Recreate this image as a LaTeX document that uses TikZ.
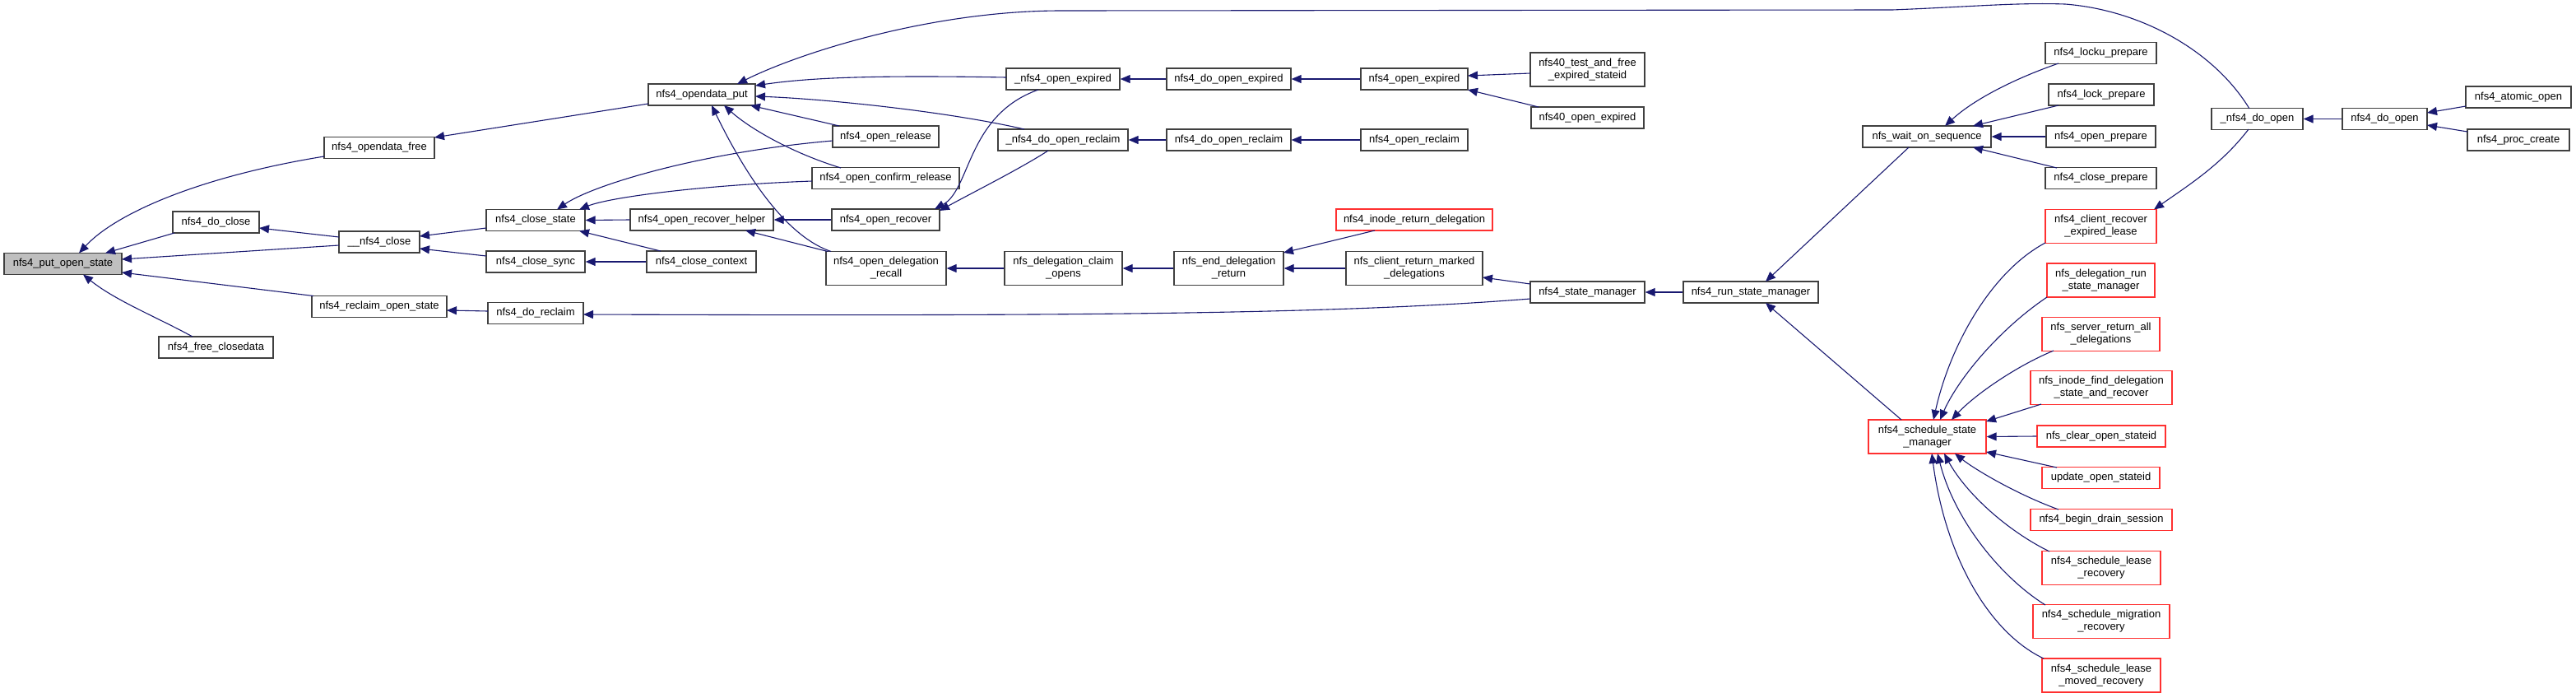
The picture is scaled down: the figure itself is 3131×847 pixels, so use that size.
\documentclass[tikz,border=0pt]{standalone}
\usepackage{fontspec}
\setmainfont{Liberation Sans}
\usetikzlibrary{arrows.meta,calc}
\definecolor{edgecol}{HTML}{191970}
\definecolor{boxline}{HTML}{404040}
\definecolor{nred}{HTML}{FF3030}
\definecolor{hl}{HTML}{BFBFBF}
\begin{document}
\begin{tikzpicture}[x=1pt,y=-1pt,
  bx/.style={draw=boxline, line width=1.3pt, fill=white, inner xsep=1pt, inner ysep=1pt,
    minimum height=26pt, align=center, font=\fontsize{13}{15}\selectfont},
  two/.style={minimum height=41pt},
  rd/.style={draw=nred},
  e/.style={draw=edgecol, line width=1.1pt, {Triangle[length=12pt,width=10pt]}-}]
\useasboundingbox (0,0) rectangle (3131,847);
% column 1
\node[bx, fill=hl, minimum width=143pt] (put) at (76.5,320.5) {nfs4\_put\_open\_state};
% column 2
\node[bx, minimum width=105pt] (dcl) at (262.5,270) {nfs4\_do\_close};
\node[bx, minimum width=139pt] (fcd) at (262.5,422) {nfs4\_free\_closedata};
% column 3
\node[bx, minimum width=134pt] (odf) at (461,179.5) {nfs4\_opendata\_free};
\node[bx, minimum width=98pt] (ncl) at (461,294) {\_\_nfs4\_close};
\node[bx, minimum width=164pt] (ros) at (461,372.5) {nfs4\_reclaim\_open\_state};
% column 4
\node[bx, minimum width=120pt] (cst) at (651,267.5) {nfs4\_close\_state};
\node[bx, minimum width=120pt] (csy) at (651,318) {nfs4\_close\_sync};
\node[bx, minimum width=116pt] (drc) at (651,380.5) {nfs4\_do\_reclaim};
% column 5
\node[bx, minimum width=130pt] (odp) at (853,115) {nfs4\_opendata\_put};
\node[bx, minimum width=174pt] (orh) at (853,267) {nfs4\_open\_recover\_helper};
\node[bx, minimum width=133pt] (cct) at (852.5,318) {nfs4\_close\_context};
% column 6
\node[bx, minimum width=129pt] (orl) at (1076.5,166) {nfs4\_open\_release};
\node[bx, minimum width=179pt] (ocr) at (1076.5,216.5) {nfs4\_open\_confirm\_release};
\node[bx, minimum width=131pt] (orc) at (1076.5,267) {nfs4\_open\_recover};
\node[bx, two, minimum width=146pt] (odr) at (1077,326) {nfs4\_open\_delegation\\\_recall};
% column 7
\node[bx, minimum width=138pt] (uoe) at (1292,96) {\_nfs4\_open\_expired};
\node[bx, minimum width=158pt] (udr) at (1292,170) {\_nfs4\_do\_open\_reclaim};
\node[bx, two, minimum width=143pt] (dco) at (1292.5,326) {nfs\_delegation\_claim\\\_opens};
% column 8
\node[bx, minimum width=151pt] (doe) at (1493.5,96) {nfs4\_do\_open\_expired};
\node[bx, minimum width=151pt] (dor) at (1493.5,170) {nfs4\_do\_open\_reclaim};
\node[bx, two, minimum width=133pt] (edr) at (1493.5,326) {nfs\_end\_delegation\\\_return};
% column 9
\node[bx, minimum width=130pt] (oex) at (1719,96) {nfs4\_open\_expired};
\node[bx, minimum width=130pt] (orm) at (1719,170) {nfs4\_open\_reclaim};
\node[bx, rd, minimum width=190pt] (ird) at (1719,267) {nfs4\_inode\_return\_delegation};
\node[bx, two, minimum width=166pt] (crm) at (1719,326) {nfs\_client\_return\_marked\\\_delegations};
% column 10
\node[bx, two, minimum width=139pt] (tfs) at (1929.5,84.5) {nfs40\_test\_and\_free\\\_expired\_stateid};
\node[bx, minimum width=137pt] (n4e) at (1929.5,143) {nfs40\_open\_expired};
\node[bx, minimum width=139pt] (stm) at (1929.5,355) {nfs4\_state\_manager};
% column 11
\node[bx, minimum width=164pt] (rsm) at (2128,355) {nfs4\_run\_state\_manager};
% column 12
\node[bx, minimum width=156pt] (wos) at (2342,166) {nfs\_wait\_on\_sequence};
\node[bx, rd, two, minimum width=143pt] (ssm) at (2342.5,530.5) {nfs4\_schedule\_state\\\_manager};
% column 13
\node[bx, minimum width=135pt] (lkp) at (2553.5,64.5) {nfs4\_locku\_prepare};
\node[bx, minimum width=128pt] (lcp) at (2554,115) {nfs4\_lock\_prepare};
\node[bx, minimum width=133pt] (opp) at (2553.5,166) {nfs4\_open\_prepare};
\node[bx, minimum width=135pt] (clp) at (2553.5,216.5) {nfs4\_close\_prepare};
\node[bx, rd, two, minimum width=135pt] (cre) at (2553.5,275) {nfs4\_client\_recover\\\_expired\_lease};
\node[bx, rd, two, minimum width=131pt] (drs) at (2553.5,340.5) {nfs\_delegation\_run\\\_state\_manager};
\node[bx, rd, two, minimum width=143pt] (sra) at (2553.5,406) {nfs\_server\_return\_all\\\_delegations};
\node[bx, rd, two, minimum width=172pt] (ifd) at (2554,471) {nfs\_inode\_find\_delegation\\\_state\_and\_recover};
\node[bx, rd, minimum width=156pt] (cos) at (2554,530) {nfs\_clear\_open\_stateid};
\node[bx, rd, minimum width=143pt] (uos) at (2553.5,580.5) {update\_open\_stateid};
\node[bx, rd, minimum width=172pt] (bds) at (2554,631.5) {nfs4\_begin\_drain\_session};
\node[bx, rd, two, minimum width=144pt] (slr) at (2554,690) {nfs4\_schedule\_lease\\\_recovery};
\node[bx, rd, two, minimum width=166pt] (smr) at (2554,755) {nfs4\_schedule\_migration\\\_recovery};
\node[bx, rd, two, minimum width=144pt] (slm) at (2554,820.5) {nfs4\_schedule\_lease\\\_moved\_recovery};
% columns 14-16
\node[bx, minimum width=111pt] (udo) at (2743.5,144.5) {\_nfs4\_do\_open};
\node[bx, minimum width=103pt] (ndo) at (2898.5,144.5) {nfs4\_do\_open};
\node[bx, minimum width=128pt] (aop) at (3061,118) {nfs4\_atomic\_open};
\node[bx, minimum width=124pt] (pcr) at (3061,170) {nfs4\_proc\_create};

% edges (arrow tip at the called function)
\draw[e] ($(put.center)+(19.5,-13)$) .. controls (140,260) and (240,215) .. ($(odf.center)+(-67,10.5)$);
\draw[e] ($(put.center)+(51.5,-13)$) -- ($(dcl.center)+(-50.5,13)$);
\draw[e] ($(put.center)+(71.5,-5.5)$) -- ($(ncl.center)+(-49,4)$);
\draw[e] ($(put.center)+(71.5,10.5)$) -- ($(ros.center)+(-80,-13)$);
\draw[e] ($(put.center)+(24.5,13)$) .. controls (140,365) and (190,385) .. ($(fcd.center)+(-28.5,-13)$);
\draw[e] ($(dcl.center)+(52.5,7)$) -- ($(ncl.center)+(-49,-6)$);
\draw[e] ($(ncl.center)+(49,-7)$) -- ($(cst.center)+(-60,9.5)$);
\draw[e] ($(ncl.center)+(49,8)$) -- ($(csy.center)+(-60,-7)$);
\draw[e] ($(odf.center)+(67,-12.5)$) -- ($(odp.center)+(-65,11)$);
\draw[e] ($(ros.center)+(82,4.5)$) -- ($(drc.center)+(-58,-2.5)$);
\draw[e] (cst.east) -- (orh.west);
\draw[e] ($(cst.center)+(26,-13)$) .. controls (720,225) and (850,185) .. ($(orl.center)+(-64.5,5)$);
\draw[e] ($(cst.center)+(53,-13)$) .. controls (740,240) and (850,225) .. ($(ocr.center)+(-89.5,3.5)$);
\draw[e] ($(cst.center)+(53,13)$) -- ($(cct.center)+(-49.5,-13)$);
\draw[e] (csy.east) -- (cct.west);
\draw[e] (orh.east) -- (orc.west);
\draw[e] ($(orh.center)+(53,13)$) -- ($(odr.center)+(-71,-20.5)$);
\draw[e] ($(odp.center)+(43,-13)$) .. controls (970,65) and (1130,13) .. (1290,13) -- (2300,12)
  .. controls (2400,8) and (2450,3) .. (2510,5) .. controls (2600,12) and (2690,60) .. ($(udo.center)+(-9.5,-12.5)$);
\draw[e] ($(odp.center)+(65,-11)$) .. controls (980,95) and (1050,91) .. ($(uoe.center)+(-69,-2)$);
\draw[e] ($(odp.center)+(65,2)$) .. controls (1000,120) and (1150,135) .. ($(udr.center)+(-47,-13)$);
\draw[e] ($(odp.center)+(59,13)$) -- ($(orl.center)+(-56.5,-13)$);
\draw[e] ($(odp.center)+(27,13)$) .. controls (910,155) and (960,185) .. ($(ocr.center)+(-54.5,-12.5)$);
\draw[e] ($(odp.center)+(12,13)$) .. controls (900,200) and (950,285) .. ($(odr.center)+(-67,-20.5)$);
\draw[e] ($(orc.center)+(59.5,-13)$) .. controls (1180,230) and (1175,140) .. ($(uoe.center)+(-30,13)$);
\draw[e] ($(orc.center)+(65.5,-11)$) .. controls (1180,235) and (1240,205) .. ($(udr.center)+(-18,13)$);
\draw[e] (uoe.east) -- (doe.west);
\draw[e] (udr.east) -- (dor.west);
\draw[e] (odr.east) -- (dco.west);
\draw[e] (dco.east) -- (edr.west);
\draw[e] ($(edr.center)+(66.5,-19)$) -- ($(ird.center)+(-48,13)$);
\draw[e] (edr.east) -- (crm.west);
\draw[e] (doe.east) -- (oex.west);
\draw[e] (dor.east) -- (orm.west);
\draw[e] ($(oex.center)+(65,-4)$) -- ($(tfs.center)+(-69.5,4.5)$);
\draw[e] ($(oex.center)+(65,13)$) -- ($(n4e.center)+(-59.5,-13)$);
\draw[e] ($(crm.center)+(83,11)$) -- ($(stm.center)+(-69.5,-10)$);
\draw[e] ($(drc.center)+(58,1.5)$) .. controls (1300,384) and (1620,382) .. ($(stm.center)+(-69.5,8)$);
\draw[e] (stm.east) -- (rsm.west);
\draw[e] ($(rsm.center)+(18,-13)$) -- ($(wos.center)+(-22,13)$);
\draw[e] ($(rsm.center)+(18,13)$) -- ($(ssm.center)+(-31.5,-20.5)$);
\draw[e] ($(wos.center)+(22,-13)$) .. controls (2400,120) and (2450,95) .. ($(lkp.center)+(-51.5,12.5)$);
\draw[e] ($(wos.center)+(56,-13)$) -- ($(lcp.center)+(-52,13)$);
\draw[e] (wos.east) -- (opp.west);
\draw[e] ($(wos.center)+(56,13)$) -- ($(clp.center)+(-53.5,-12.5)$);
\draw[e] (udo.east) -- (ndo.west);
\draw[e] ($(ndo.center)+(51.5,-7.5)$) -- ($(aop.center)+(-64,11)$);
\draw[e] ($(ndo.center)+(51.5,7.5)$) -- ($(pcr.center)+(-62,-10)$);
\draw[e] ($(cre.center)+(64.5,-20.5)$) .. controls (2660,225) and (2700,200) .. ($(udo.center)+(-10.5,12.5)$);
\draw[e] ($(ssm.center)+(7.5,-20.5)$) .. controls (2370,420) and (2420,330) .. ($(cre.center)+(-67.5,20)$);
\draw[e] ($(ssm.center)+(15.5,-20.5)$) .. controls (2380,460) and (2430,400) .. ($(drs.center)+(-65.5,20.5)$);
\draw[e] ($(ssm.center)+(29.5,-20.5)$) .. controls (2400,480) and (2450,445) .. ($(sra.center)+(-57.5,20)$);
\draw[e] ($(ssm.center)+(71.5,-18.5)$) -- ($(ifd.center)+(-73,20)$);
\draw[e] (ssm.east) -- (cos.west);
\draw[e] ($(ssm.center)+(71.5,18.5)$) -- ($(uos.center)+(-53.5,-12.5)$);
\draw[e] ($(ssm.center)+(33.5,20.5)$) .. controls (2400,570) and (2450,600) .. ($(bds.center)+(-52,-12.5)$);
\draw[e] ($(ssm.center)+(20.5,20.5)$) .. controls (2390,600) and (2440,645) .. ($(slr.center)+(-63,-20)$);
\draw[e] ($(ssm.center)+(12.5,20.5)$) .. controls (2375,630) and (2430,700) .. ($(smr.center)+(-68,-20)$);
\draw[e] ($(ssm.center)+(5.5,20.5)$) .. controls (2365,680) and (2420,770) .. ($(slm.center)+(-70,-20.5)$);
\end{tikzpicture}
\end{document}
